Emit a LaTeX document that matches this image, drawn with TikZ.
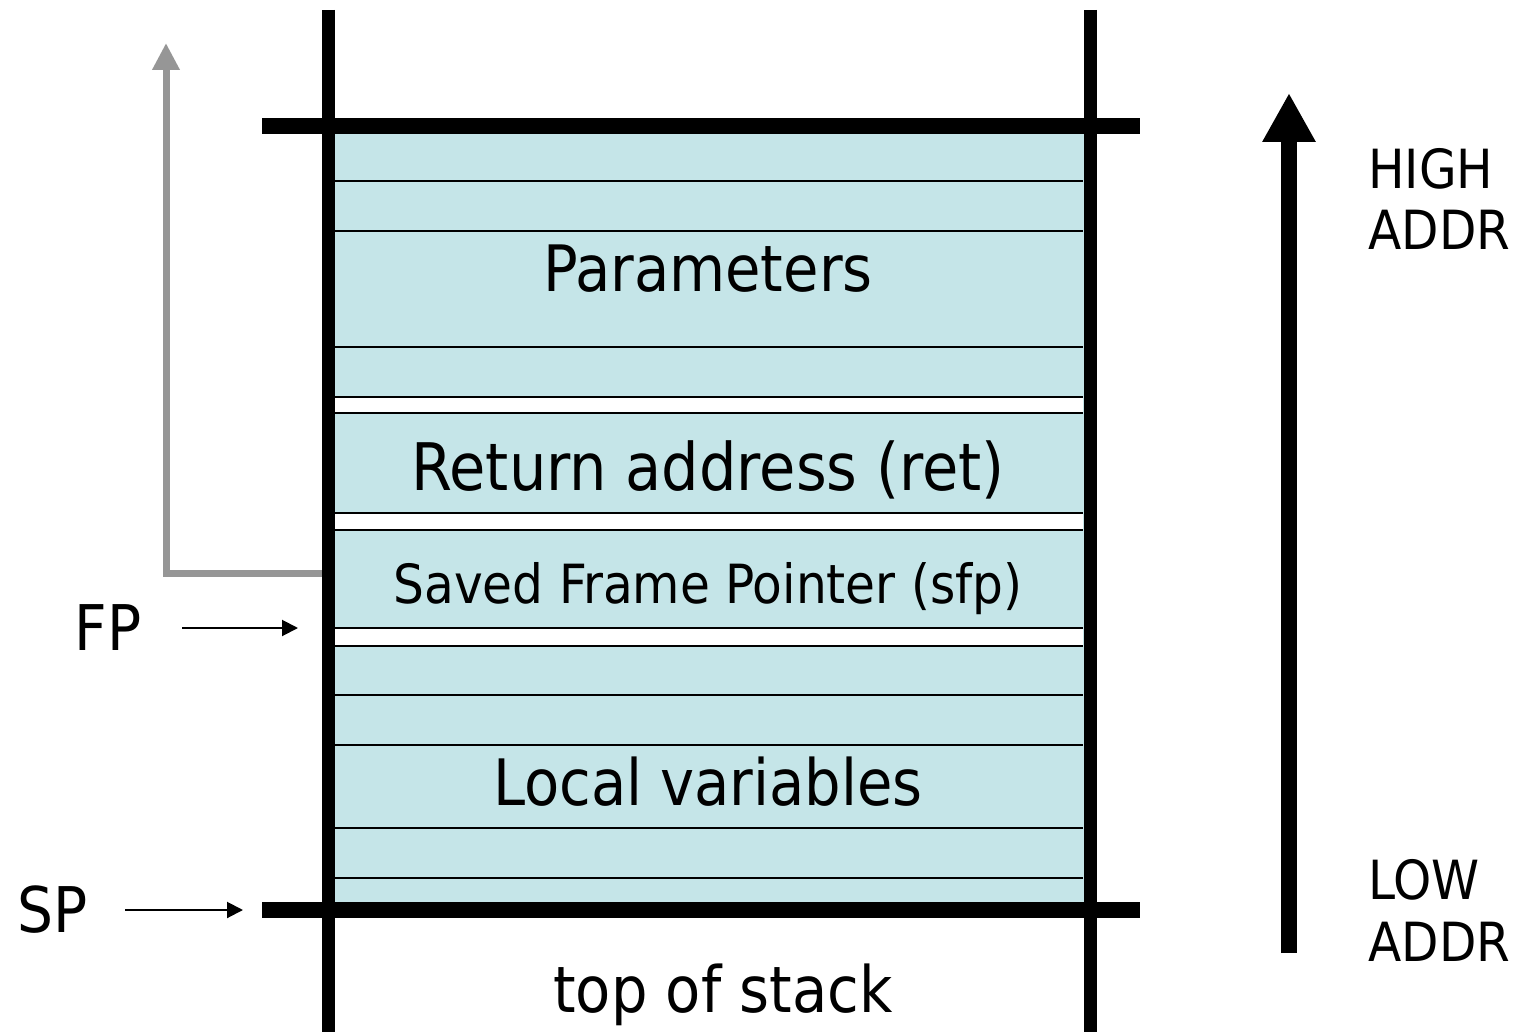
\documentclass[tikz,border=0pt]{standalone}
\usepackage{fontspec}
\setmainfont{DejaVu Sans Condensed}
\usepackage{tikz}
\usetikzlibrary{arrows.meta}
\definecolor{stackblue}{RGB}{197,229,232}
\definecolor{linkgray}{RGB}{150,150,150}

\begin{document}
\begin{tikzpicture}[x=0.5pt, y=-0.5pt,
  wall/.style={line width=6.5pt},
  bar/.style={line width=8pt},
  slot/.style={line width=1pt},
  big/.style={font=\fontsize{32}{38}\selectfont, anchor=base, inner sep=0pt},
  sfptext/.style={font=\fontsize{27}{32}\selectfont, anchor=base, inner sep=0pt},
  reg/.style={font=\fontsize{31.5}{36}\selectfont, anchor=base, inner sep=0pt},
  side/.style={font=\fontsize{27}{30}\selectfont, anchor=base west, inner sep=0pt},
  ptr/.style={line width=1pt, -{Triangle[width=8pt,length=8pt]}}]
\useasboundingbox (0,0) rectangle (1515,1032);

% the frame
\fill[stackblue] (328,126) rectangle (1090,910);
\foreach \a/\b in {397/413, 513/530, 628/646}
  \fill[white] (334,\a) rectangle (1083,\b);
\foreach \y in {181,231,347,397,413,513,530,628,646,695,745,828,878}
  \draw[slot] (334,\y) -- (1083,\y);

% saved fp points to caller frame
\coordinate (sfp) at (328,573);
\coordinate (caller) at (166,43);
\draw[line width=3.5pt, linkgray, -{Triangle[width=13pt,length=13.5pt]}] (sfp) -| (caller);

\draw[wall] (328,10) -- (328,1032);
\draw[wall] (1090,10) -- (1090,1032);
\draw[bar] (262,126) -- (1140,126);
\draw[bar] (262,910) -- (1140,910);

\node[big] (params) at (708,292) {Parameters};
\node[big, font=\fontsize{32.8}{38}\selectfont] (ret) at (708,490) {Return address (ret)};
\node[sfptext] (savedfp) at (708,603) {Saved Frame Pointer (sfp)};
\node[big] (locals) at (708,805) {Local variables};
\node[big] (tos) at (723,1012) {top of stack};

% registers
\node[reg] (fp) at (108,650) {FP};
\coordinate (fpfrom) at (182,628);
\coordinate (fpto) at (298,628);
\draw[ptr] (fpfrom) -- (fpto);
\node[reg] (sp) at (53,932) {SP};
\coordinate (spfrom) at (125,910);
\coordinate (spto) at (243,910);
\draw[ptr] (spfrom) -- (spto);

% address direction
\coordinate (lowend) at (1289,953);
\coordinate (highend) at (1289,93);
\draw[line width=8pt, -{Triangle[width=25pt,length=24.5pt]}] (lowend) -- (highend);
\node[side] (high) at (1368,189) {HIGH};
\node[side] (highaddr) at (1368,250) {ADDR};
\node[side] (low) at (1368,899) {LOW};
\node[side] (lowaddr) at (1368,961) {ADDR};
\end{tikzpicture}
\end{document}
